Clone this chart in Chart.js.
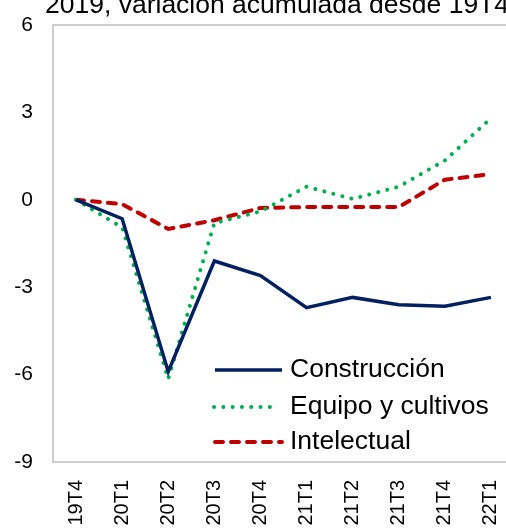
<!DOCTYPE html>
<html>
<head>
<meta charset="utf-8">
<script src="https://cdn.jsdelivr.net/npm/chart.js@4"></script>
<style>
  html, body { margin: 0; padding: 0; background: #fff; overflow: hidden; }
  #wrap { width: 516px; height: 531px; position: relative; }
</style>
</head>
<body>
<div id="wrap"><canvas id="c" width="516" height="531"></canvas></div>
<script>
const categories = ['19T4','20T1','20T2','20T3','20T4','21T1','21T2','21T3','21T4','22T1'];
const construccion = [0, -0.65, -5.9, -2.1, -2.6, -3.7, -3.35, -3.6, -3.65, -3.35];
const equipo = [0, -0.95, -6.15, -0.8, -0.4, 0.45, 0.03, 0.45, 1.35, 2.8];
const intelectual = [0, -0.15, -1.0, -0.7, -0.28, -0.25, -0.25, -0.25, 0.69, 0.88];
const yTicks = [-9, -6, -3, 0, 3, 6];
const titleText = '2019, variación acumulada desde 19T4';

const FONT = '"Liberation Sans", Arial, sans-serif';

const frame = {
  id: 'frame',
  beforeDatasetsDraw(chart) {
    const a = chart.chartArea, ctx = chart.ctx;
    ctx.save();
    ctx.strokeStyle = '#BFBFBF';
    ctx.lineWidth = 1.5;
    ctx.strokeRect(a.left, a.top, a.right - a.left, a.bottom - a.top);
    ctx.restore();
  },
  afterDraw(chart) {
    const ctx = chart.ctx;
    ctx.save();
    ctx.font = '26.5px ' + FONT;
    ctx.fillStyle = '#000';
    ctx.textAlign = 'left';
    ctx.textBaseline = 'alphabetic';
    ctx.fillText(titleText, 45, 13);
    // legend
    const ys = [370, 407, 442];
    chart.data.datasets.forEach((ds, i) => {
      const y = ys[i];
      ctx.beginPath();
      ctx.strokeStyle = ds.borderColor;
      ctx.lineWidth = ds.borderWidth;
      ctx.lineCap = ds.borderCapStyle || 'butt';
      ctx.setLineDash(ds.borderDash || []);
      const x0 = i === 1 ? 214 : 215;
      const x1 = i === 1 ? 274 : 282;
      ctx.moveTo(x0, y);
      ctx.lineTo(x1, y);
      ctx.stroke();
      ctx.setLineDash([]);
      ctx.fillStyle = '#000';
      ctx.textBaseline = 'middle';
      ctx.fillText(ds.label, 290, y);
    });
    ctx.restore();
  }
};

new Chart(document.getElementById('c'), {
  type: 'line',
  data: {
    labels: categories,
    datasets: [
      { label: 'Construcción', data: construccion, borderColor: '#002060', borderWidth: 3.5,
        pointRadius: 0, tension: 0, borderJoinStyle: 'miter' },
      { label: 'Equipo y cultivos', data: equipo, borderColor: '#00B050', borderWidth: 4,
        borderDash: [0.1, 9.2], borderCapStyle: 'round', pointRadius: 0, tension: 0 },
      { label: 'Intelectual', data: intelectual, borderColor: '#C00000', borderWidth: 4,
        borderDash: [8, 8], borderCapStyle: 'round', pointRadius: 0, tension: 0 }
    ]
  },
  options: {
    responsive: false,
    animation: false,
    devicePixelRatio: 1,
    layout: { padding: { top: 25, right: 2, left: 0, bottom: 0 } },
    plugins: { legend: { display: false }, title: { display: false }, tooltip: { enabled: false } },
    scales: {
      x: {
        offset: true,
        grid: { display: false, drawTicks: false },
        border: { display: false },
        ticks: { autoSkip: false, minRotation: 90, maxRotation: 90, padding: 18,
          color: '#000', font: { family: FONT, size: 20 } },
        afterFit(s) { s.height = 69; s.paddingLeft = 0; s.paddingRight = 0; s.paddingTop = 0; s.paddingBottom = 0; }
      },
      y: {
        min: -9, max: 6,
        grid: { display: false, drawTicks: false },
        border: { display: false },
        afterBuildTicks(s) { s.ticks = yTicks.map(v => ({ value: v })); },
        ticks: { padding: 20, color: '#000', font: { family: FONT, size: 21 } },
        afterFit(s) { s.width = 53; s.paddingTop = 0; s.paddingBottom = 0; s.paddingLeft = 0; s.paddingRight = 0; }
      }
    }
  },
  plugins: [frame]
});
</script>
</body>
</html>
